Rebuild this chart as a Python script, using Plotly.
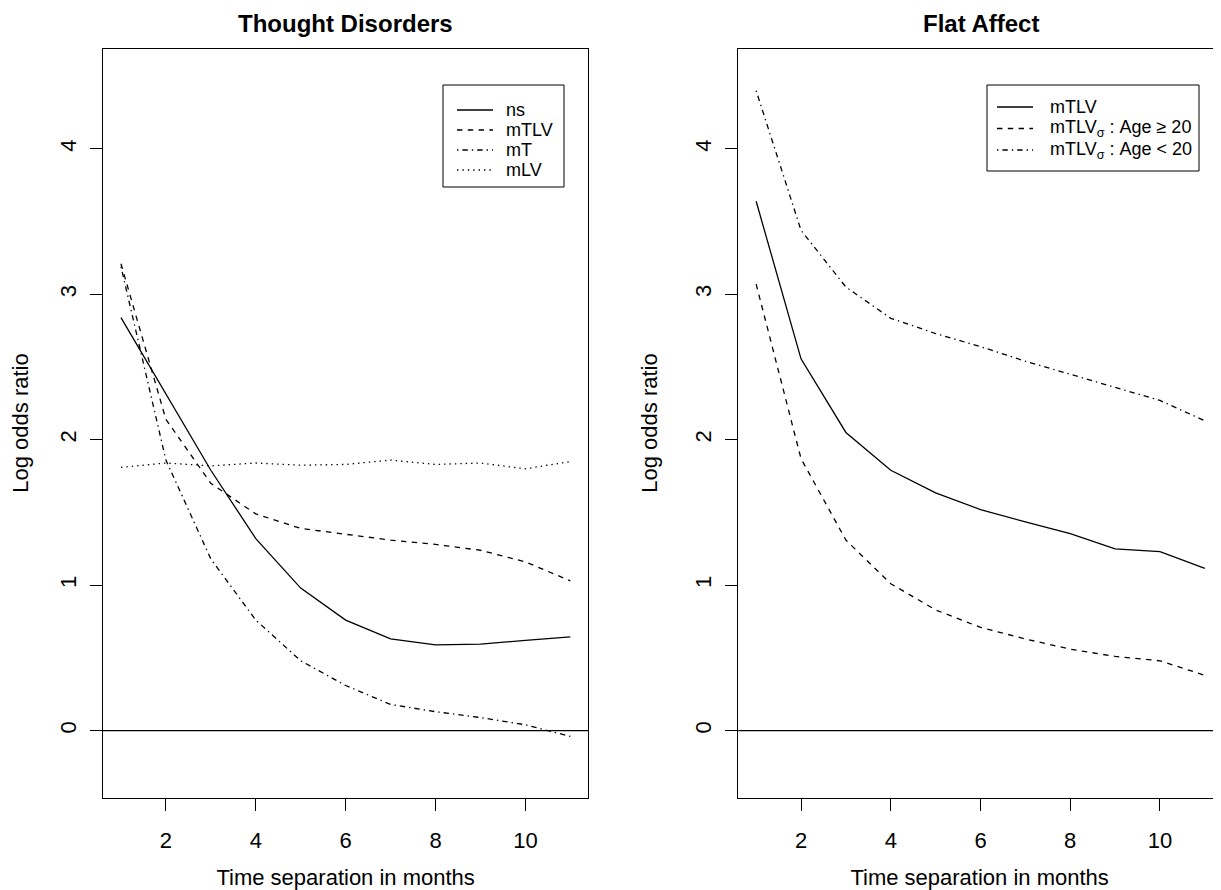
import plotly.graph_objects as go

# ---------------- data ----------------
months = [1, 2, 3, 4, 5, 6, 7, 8, 9, 10, 11]
x_ticks = [2, 4, 6, 8, 10]
y_ticks = [0, 1, 2, 3, 4]

# Thought Disorders panel
td_ns = [2.84, 2.32, 1.79, 1.32, 0.98, 0.76, 0.63, 0.59, 0.595, 0.62, 0.645]
td_mtlv = [3.21, 2.14, 1.70, 1.49, 1.39, 1.35, 1.31, 1.28, 1.24, 1.16, 1.03]
td_mt = [3.19, 1.86, 1.18, 0.76, 0.48, 0.31, 0.18, 0.13, 0.09, 0.04, -0.04]
td_mlv = [1.81, 1.84, 1.82, 1.84, 1.825, 1.83, 1.86, 1.83, 1.84, 1.80, 1.85]

# Flat Affect panel
fa_mtlv = [3.64, 2.556, 2.05, 1.79, 1.635, 1.52, 1.435, 1.355, 1.25, 1.23, 1.115]
fa_ge20 = [3.07, 1.87, 1.31, 1.01, 0.83, 0.71, 0.63, 0.56, 0.51, 0.48, 0.38]
fa_lt20 = [4.40, 3.44, 3.05, 2.835, 2.73, 2.64, 2.54, 2.45, 2.36, 2.27, 2.13]

left_labels = ["ns", "mTLV", "mT", "mLV"]
right_labels = ["mTLV", "mTLV<sub>σ</sub> : Age ≥ 20", "mTLV<sub>σ</sub> : Age &lt; 20"]

# ---------------- styling ----------------
PAGE_W, PAGE_H = 1221, 890
OFF = 8  # default page body margin
W, H = PAGE_W - OFF, PAGE_H - OFF
FONT = "Liberation Sans, Arial, Helvetica, sans-serif"
LW = 1.3
DASH = {
    "solid": "solid",
    "dash": "5.4px,5.4px",
    "dashdot": "1.4px,4px,5.4px,4px",
    "dot": "1.4px,4px",
}


def px(x):
    """page pixel x -> paper fraction"""
    return (x - OFF) / W


def py(y):
    """page pixel y -> paper fraction"""
    return 1 - (y - OFF) / H


left_series = list(zip(left_labels, [td_ns, td_mtlv, td_mt, td_mlv],
                       ["solid", "dash", "dashdot", "dot"]))
right_series = list(zip(right_labels, [fa_mtlv, fa_ge20, fa_lt20],
                        ["solid", "dash", "dashdot"]))

fig = go.Figure()
for name, vals, style in left_series:
    fig.add_trace(go.Scatter(x=months, y=vals, mode="lines", name=name,
                             line=dict(color="black", width=LW, dash=DASH[style]),
                             xaxis="x", yaxis="y", showlegend=False))
for name, vals, style in right_series:
    fig.add_trace(go.Scatter(x=months, y=vals, mode="lines", name=name,
                             line=dict(color="black", width=LW, dash=DASH[style]),
                             xaxis="x2", yaxis="y2", showlegend=False))

axis_common = dict(
    showgrid=False, zeroline=False, showline=True, linecolor="black",
    linewidth=1, ticks="outside", ticklen=12, tickwidth=1, tickcolor="black",
    tickfont=dict(family=FONT, size=22, color="black"),
)

Y_RANGE = [-0.46, 4.69]
Y_DOMAIN = [py(797.5), py(48.5)]

fig.update_layout(
    width=W, height=H,
    margin=dict(l=0, r=0, t=0, b=0),
    paper_bgcolor="white", plot_bgcolor="white",
    font=dict(family=FONT, color="black"),
    xaxis=dict(axis_common, domain=[px(103), px(588.3)], range=[0.6, 11.4],
               tickvals=x_ticks, mirror=True, anchor="y", ticklabelstandoff=11,
               title=dict(text="Time separation in months",
                          font=dict(family=FONT, size=22), standoff=17)),
    yaxis=dict(axis_common, domain=Y_DOMAIN, range=Y_RANGE, tickvals=y_ticks,
               tickangle=-90, mirror=True, anchor="x", ticklabelstandoff=5,
               title=dict(text="Log odds ratio",
                          font=dict(family=FONT, size=22), standoff=27)),
    xaxis2=dict(axis_common, domain=[px(738.2), 1.0], range=[0.6, 11.36],
                tickvals=x_ticks, mirror=True, anchor="y2", ticklabelstandoff=11,
                title=dict(text="Time separation in months",
                           font=dict(family=FONT, size=22), standoff=17)),
    yaxis2=dict(axis_common, domain=Y_DOMAIN, range=Y_RANGE, tickvals=y_ticks,
                tickangle=-90, mirror=False, anchor="x2", ticklabelstandoff=5,
                title=dict(text="Log odds ratio",
                           font=dict(family=FONT, size=22), standoff=27)),
)

# horizontal reference line at 0 in both panels
for xr, yr in [("x domain", "y"), ("x2 domain", "y2")]:
    fig.add_shape(type="line", xref=xr, yref=yr, x0=0, x1=1, y0=0, y1=0,
                  line=dict(color="black", width=1.2))

# panel titles
for title, cx in [("Thought Disorders", 345.6), ("Flat Affect", 980.5)]:
    fig.add_annotation(text="<b>" + title + "</b>", xref="paper", yref="paper",
                       x=px(cx), y=py(23), xanchor="center", yanchor="middle",
                       showarrow=False, borderpad=0,
                       font=dict(family=FONT, size=24, color="black"))


# manual legends (R-style boxes)
def draw_legend(series, box, row_ys, line_x, text_x, size):
    x0, y0, x1, y1 = box
    fig.add_shape(type="rect", xref="paper", yref="paper",
                  x0=px(x0), x1=px(x1), y0=py(y0), y1=py(y1),
                  line=dict(color="black", width=1), fillcolor="white", layer="above")
    for (name, _, style), yy in zip(series, row_ys):
        fig.add_shape(type="line", xref="paper", yref="paper",
                      x0=px(line_x[0]), x1=px(line_x[1]), y0=py(yy), y1=py(yy),
                      line=dict(color="black", width=LW, dash=DASH[style]), layer="above")
        fig.add_annotation(text=name, xref="paper", yref="paper",
                           x=px(text_x), y=py(yy), xanchor="left", yanchor="middle",
                           showarrow=False, font=dict(family=FONT, size=size, color="black"))


draw_legend(left_series, (443, 85, 564, 187), [110, 130, 150, 170], (457, 493), 504, 18)
draw_legend(right_series, (987, 85, 1199, 171), [107, 128.5, 150], (997, 1033), 1048, 18)

fig.write_html("out.html")
